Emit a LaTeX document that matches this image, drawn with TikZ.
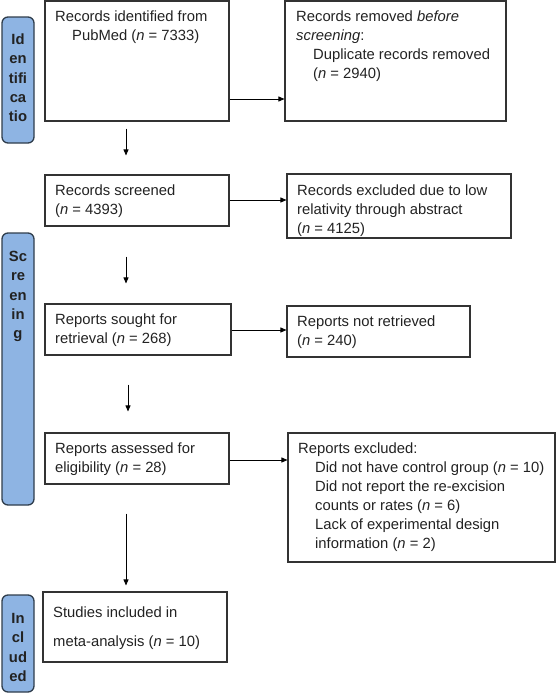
\documentclass[tikz,border=0pt]{standalone}
\usepackage{fontspec}
\setmainfont{Liberation Sans}
\usetikzlibrary{arrows.meta,calc}
\definecolor{barfill}{HTML}{8EB4E3}
\definecolor{bardraw}{HTML}{2F3D4C}
\definecolor{boxdraw}{HTML}{333333}
\definecolor{txt}{HTML}{222222}
\tikzset{
  box/.style={draw=boxdraw, line width=1.1pt, rectangle, inner sep=0pt},
  bar/.style={draw=bardraw, fill=barfill, line width=1.3pt, rounded corners=6pt, rectangle, inner sep=0pt, minimum width=32pt},
  txtnode/.style={anchor=north west, inner sep=0pt, align=left, text=txt, font=\fontsize{14.8}{19}\selectfont},
  barlbl/.style={anchor=north, inner sep=0pt, align=center, text=txt, font=\fontsize{14.8}{19.3}\selectfont\bfseries},
  arr/.style={draw=black, line width=0.8pt, -{Triangle[length=6pt,width=5pt]}}
}
\begin{document}
\begin{tikzpicture}[x=1pt,y=-1pt]
\useasboundingbox (0,0) rectangle (557,694);
% side bars
\node[bar, minimum height=126pt] (bar1) at (18,80) {};
\node[bar, minimum height=272pt] (bar2) at (18,369) {};
\node[bar, minimum height=97pt] (bar3) at (18,643.5) {};
\node[barlbl] (l1) at (18,30.7) {\strut Id\\en\\tifi\\ca\\tio};
\node[barlbl] (l2) at (18,247.7) {\strut Sc\\re\\en\\in\\g};
\node[barlbl] (l3) at (18,609.7) {\strut In\\cl\\ud\\ed};
% boxes
\node[box, minimum width=184pt, minimum height=120pt] (b1) at (137,61) {};
\node[box, minimum width=221pt, minimum height=120pt] (b2) at (395.5,61) {};
\node[box, minimum width=184pt, minimum height=51pt] (b3) at (137,200.5) {};
\node[box, minimum width=224pt, minimum height=64pt] (b4) at (399,206) {};
\node[box, minimum width=186pt, minimum height=51pt] (b5) at (138,329.5) {};
\node[box, minimum width=183pt, minimum height=51pt] (b6) at (378.5,331.5) {};
\node[box, minimum width=184pt, minimum height=51pt] (b7) at (137,458.5) {};
\node[box, minimum width=267pt, minimum height=129pt] (b8) at (421.5,497.5) {};
\node[box, minimum width=184pt, minimum height=70pt] (b9) at (135,627) {};
% texts
\node[txtnode] (t1) at (55,7.7) {\strut Records identified from\\\hspace*{17pt}PubMed (\textit{n} = 7333)};
\node[txtnode] (t2) at (296,7.7) {\strut Records removed \textit{before}\\\textit{screening}:\\\hspace*{17pt}Duplicate records removed\\\hspace*{17pt}(\textit{n} = 2940)};
\node[txtnode] (t3) at (55,181.7) {\strut Records screened\\(\textit{n} = 4393)};
\node[txtnode] (t4) at (297,181.7) {\strut Records excluded due to low\\relativity through abstract\\(\textit{n} = 4125)};
\node[txtnode] (t5) at (55,310.7) {\strut Reports sought for\\retrieval (\textit{n} = 268)};
\node[txtnode] (t6) at (297,312.7) {\strut Reports not retrieved\\(\textit{n} = 240)};
\node[txtnode] (t7) at (55,439.7) {\strut Reports assessed for\\eligibility (\textit{n} = 28)};
\node[txtnode] (t8) at (298,439.7) {\strut Reports excluded:\\\hspace*{17pt}Did not have control group (\textit{n} = 10)\\\hspace*{17pt}Did not report the re-excision\\\hspace*{17pt}counts or rates (\textit{n} = 6)\\\hspace*{17pt}Lack of experimental design\\\hspace*{17pt}information (\textit{n} = 2)};
\node[txtnode] (t9) at (53,603.7) {\strut Studies included in\\[10pt]meta-analysis (\textit{n} = 10)};
% side arrows
\coordinate (y1) at (0,99);
\coordinate (y2) at (0,200);
\coordinate (y3) at (0,330);
\coordinate (y4) at (0,460);
\draw[arr] (b1.east |- y1) -- (b2.west |- y1);
\draw[arr] (b3.east |- y2) -- (b4.west |- y2);
\draw[arr] (b5.east |- y3) -- (b6.west |- y3);
\draw[arr] (b7.east |- y4) -- (b8.west |- y4);
% down arrows
\draw[arr] ([xshift=-11pt,yshift=-7pt]b1.south) -- ([xshift=-11pt,yshift=19pt]b3.north);
\draw[arr] ([xshift=-11pt,yshift=-30pt]b3.south) -- ([xshift=-12pt,yshift=20pt]b5.north);
\draw[arr] ([xshift=-10pt,yshift=-29pt]b5.south) -- ([xshift=-9pt,yshift=21pt]b7.north);
\draw[arr] ([xshift=-11pt,yshift=-29pt]b7.south) -- ([xshift=-9pt,yshift=6pt]b9.north);
\end{tikzpicture}
\end{document}
